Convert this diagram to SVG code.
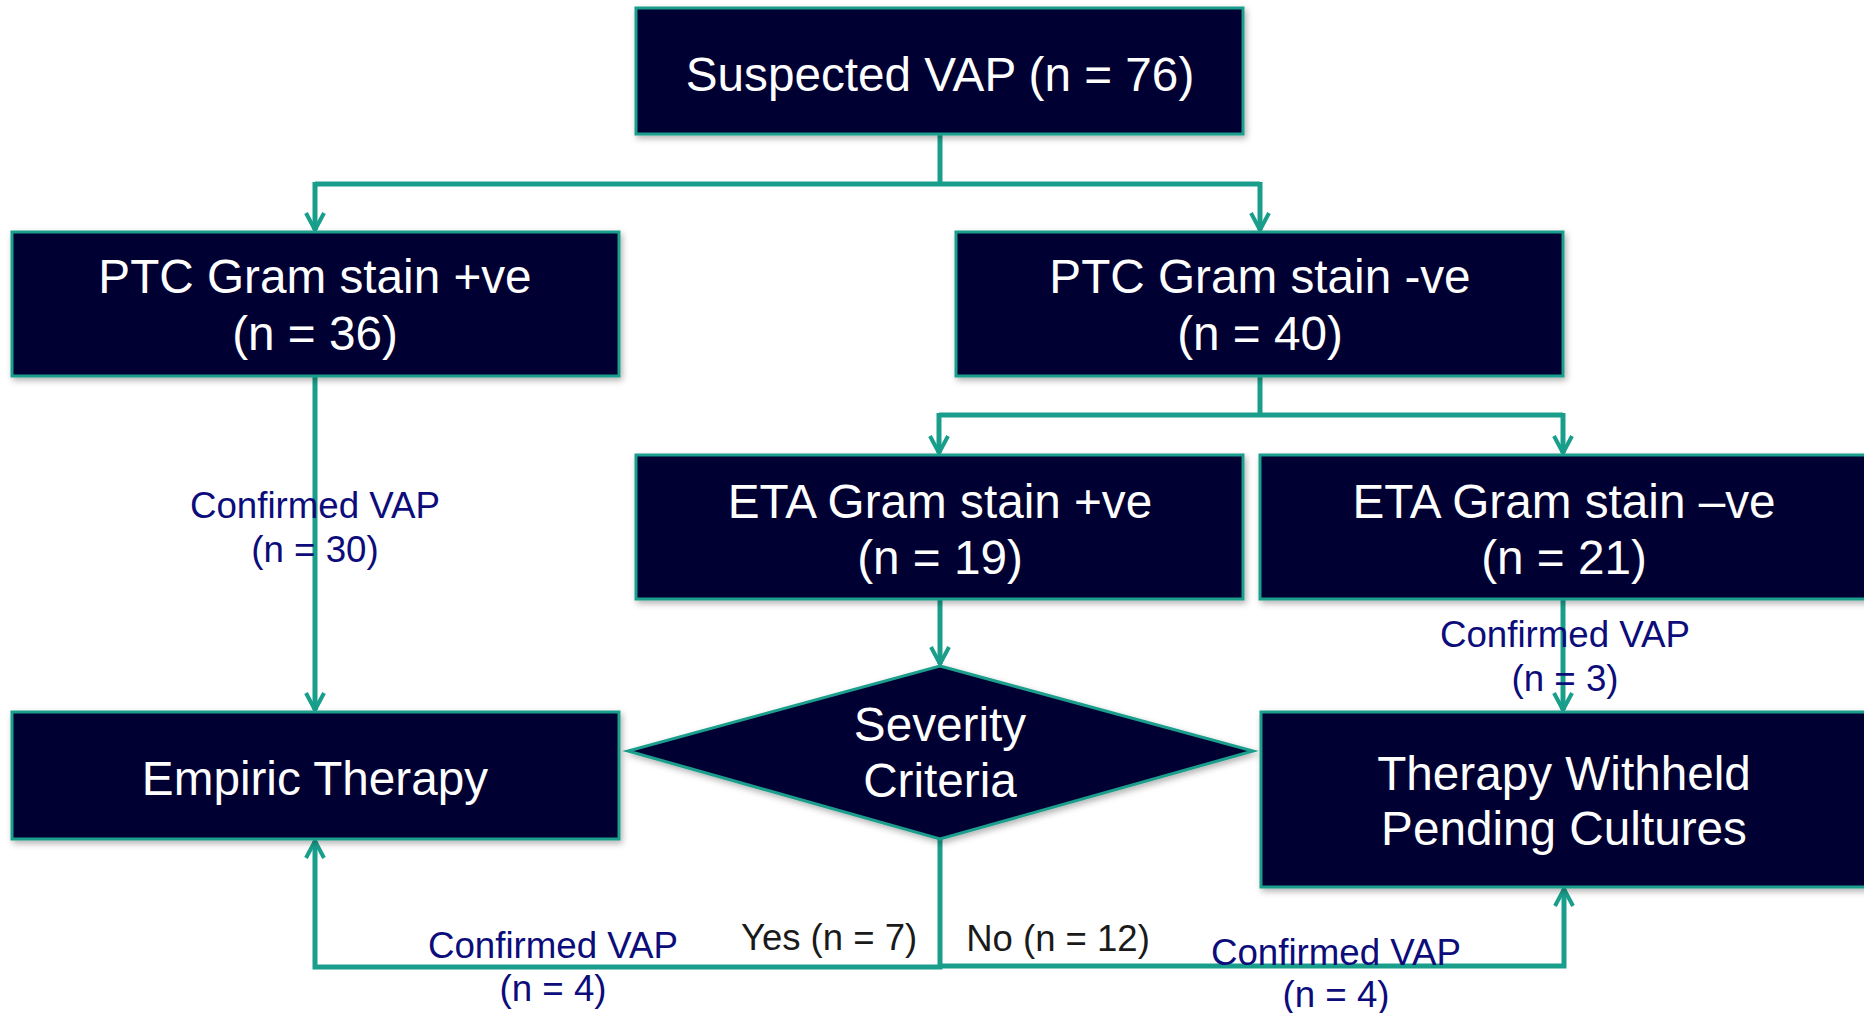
<svg xmlns="http://www.w3.org/2000/svg" width="1864" height="1013" viewBox="0 0 1864 1013">
<style>
.box{fill:#000032;stroke:#1a9e8c;stroke-width:3;filter:url(#sh)}
.t{font-family:"Liberation Sans",Arial,sans-serif;font-size:47.7px;fill:#ffffff;text-anchor:middle}
.c{fill:none;stroke:#1a9e8c;stroke-width:5}
.a{marker-end:url(#ah)}
.lb{font-family:"Liberation Sans",Arial,sans-serif;font-size:36.7px;fill:#0c0c7a;text-anchor:middle}
.lk{font-family:"Liberation Sans",Arial,sans-serif;font-size:36.5px;fill:#1a1a1a;text-anchor:middle}
</style>
<defs>
<filter id="sh" x="-5%" y="-5%" width="110%" height="115%">
<feDropShadow dx="2" dy="3" stdDeviation="3" flood-color="#000" flood-opacity="0.3"/>
</filter>
<marker id="ah" viewBox="0 0 22 22" refX="20" refY="11" markerWidth="22" markerHeight="22" markerUnits="userSpaceOnUse" orient="auto">
<path d="M3,2 L20,11 L3,20" fill="none" stroke="#1a9e8c" stroke-width="4"/>
</marker>
</defs>
<rect width="1864" height="1013" fill="#ffffff"/>
<g id="connectors">
<path class="c" d="M940,134 V184"/>
<path class="c" d="M315,184 H1260"/>
<path class="c a" d="M315,182 V230"/>
<path class="c a" d="M1260,182 V230"/>
<path class="c" d="M1260,376 V415"/>
<path class="c" d="M939,415 H1563"/>
<path class="c a" d="M939,413 V453"/>
<path class="c a" d="M1563,413 V453"/>
<path class="c a" d="M940,599 V664"/>
<path class="c a" d="M315,376 V710"/>
<path class="c a" d="M1563,599 V710"/>
<path class="c a" d="M940,839 V967 H315 V841"/>
<path class="c a" d="M940,966 H1564 V889"/>
</g>
<g id="n-suspected"><rect class="box" x="636" y="8" width="607" height="126"/><text class="t" x="940" y="91">Suspected VAP (n = 76)</text></g>
<g id="n-ptc-pos"><rect class="box" x="12" y="232" width="607" height="144"/><text class="t" x="315" y="293">PTC Gram stain +ve</text><text class="t" x="315" y="350">(n = 36)</text></g>
<g id="n-ptc-neg"><rect class="box" x="956" y="232" width="607" height="144"/><text class="t" x="1260" y="293">PTC Gram stain -ve</text><text class="t" x="1260" y="350">(n = 40)</text></g>
<g id="n-eta-pos"><rect class="box" x="636" y="455" width="607" height="144"/><text class="t" x="940" y="518">ETA Gram stain +ve</text><text class="t" x="940" y="574">(n = 19)</text></g>
<g id="n-eta-neg"><rect class="box" x="1260" y="455" width="610" height="144"/><text class="t" x="1564" y="518">ETA Gram stain –ve</text><text class="t" x="1564" y="574">(n = 21)</text></g>
<g id="n-severity"><path class="box" d="M940,666 L1253,751 L940,839 L628,751 Z"/><text class="t" x="940" y="741">Severity</text><text class="t" x="940" y="797">Criteria</text></g>
<g id="n-empiric"><rect class="box" x="12" y="712" width="607" height="127"/><text class="t" x="315" y="795">Empiric Therapy</text></g>
<g id="n-withheld"><rect class="box" x="1261" y="712" width="610" height="175"/><text class="t" x="1564" y="790">Therapy Withheld</text><text class="t" x="1564" y="845">Pending Cultures</text></g>
<g id="labels">
<text class="lb" x="315" y="518">Confirmed VAP</text><text class="lb" x="315" y="562">(n = 30)</text>
<text class="lb" x="1565" y="647">Confirmed VAP</text><text class="lb" x="1565" y="691">(n = 3)</text>
<text class="lb" x="553" y="958">Confirmed VAP</text><text class="lb" x="553" y="1001">(n = 4)</text>
<text class="lb" x="1336" y="965">Confirmed VAP</text><text class="lb" x="1336" y="1007">(n = 4)</text>
<text class="lk" x="829" y="950">Yes (n = 7)</text>
<text class="lk" x="1058" y="951">No (n = 12)</text>
</g>
</svg>
